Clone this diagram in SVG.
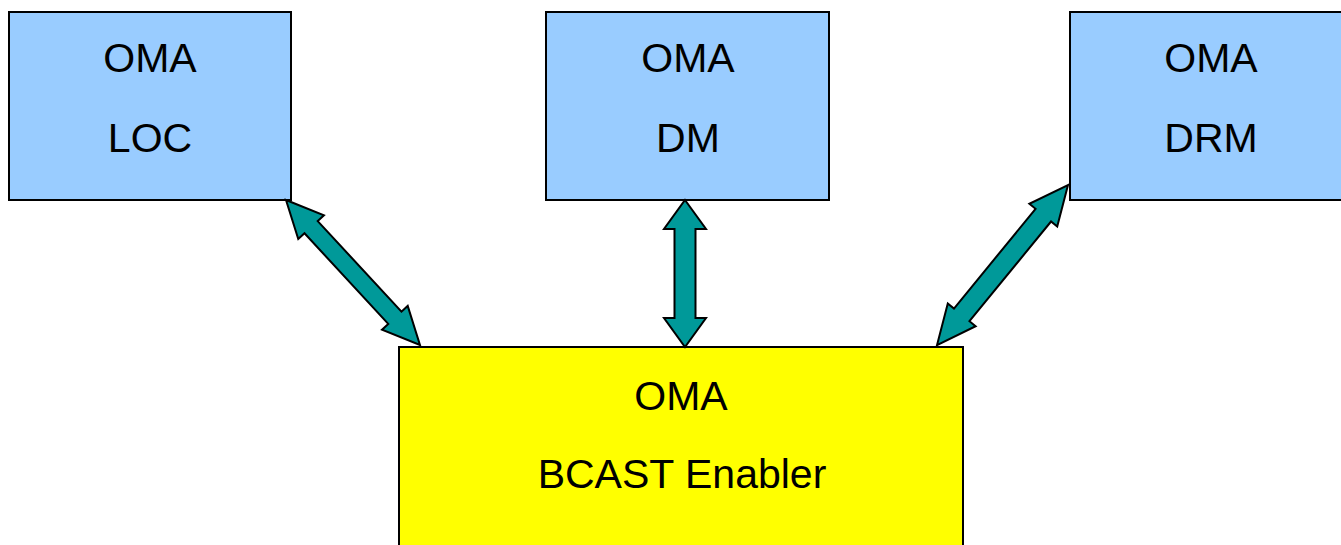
<svg xmlns="http://www.w3.org/2000/svg" width="1341" height="545" viewBox="0 0 1341 545">
<style>
.box{fill:#99ccff;stroke:#000;stroke-width:2}
.main{fill:#ffff00;stroke:#000;stroke-width:2}
.t{font-family:"Liberation Sans",Arial,sans-serif;font-size:41px;fill:#000;text-anchor:middle}
.arr{fill:#009999;stroke:#000;stroke-width:2;stroke-linejoin:miter}
</style>
<rect width="1341" height="545" fill="#fff"/>
<g id="loc">
<rect class="box" x="9" y="12" width="282" height="188"/>
<text class="t" x="150" y="72">OMA</text>
<text class="t" x="150" y="152">LOC</text>
</g>
<g id="dm">
<rect class="box" x="546" y="12" width="283" height="188"/>
<text class="t" x="688" y="72">OMA</text>
<text class="t" x="688" y="152">DM</text>
</g>
<g id="drm">
<rect class="box" x="1070" y="12" width="282" height="188"/>
<text class="t" x="1211" y="72">OMA</text>
<text class="t" x="1211" y="152">DRM</text>
</g>
<g id="bcast">
<rect class="main" x="399" y="347" width="564" height="210"/>
<text class="t" x="681" y="410">OMA</text>
<text class="t" x="682" y="488">BCAST Enabler</text>
</g>
<g id="connectors">
<g transform="translate(286,200) rotate(47.26)">
<polygon class="arr" points="0,0 37,-17.5 37,-9 160.4,-9 160.4,-17.5 197.4,0 160.4,17.5 160.4,9 37,9 37,17.5"/>
</g>
<polygon class="arr" points="685,200 706,229 695.5,229 695.5,318 706,318 685,347 664,318 674.5,318 674.5,229 664,229"/>
<g transform="translate(1068,185) rotate(129.3)">
<polygon class="arr" points="0,0 39,-18 39,-10 167.8,-10 167.8,-18 206.8,0 167.8,18 167.8,10 39,10 39,18"/>
</g>
</g>
</svg>
